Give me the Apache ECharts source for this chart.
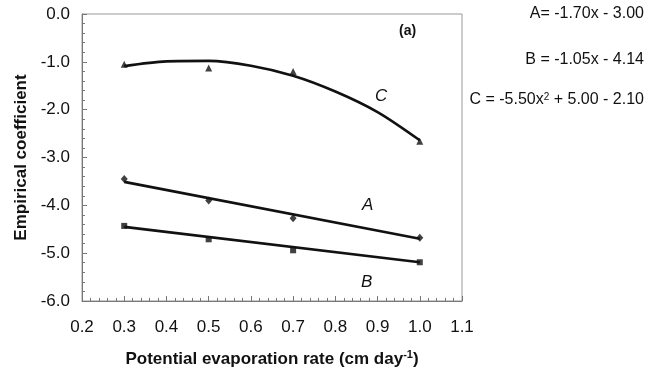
<!DOCTYPE html>
<html>
<head>
<meta charset="utf-8">
<script src="https://cdn.jsdelivr.net/npm/echarts@6/dist/echarts.min.js"></script>
<style>
html,body{margin:0;padding:0;background:#fff;}
#c{width:657px;height:375px;}
</style>
</head>
<body>
<div id="c"></div>
<script>
// Observed points
var obsX = [0.3, 0.5, 0.7, 1.0];
var obsA = [-3.45, -3.90, -4.27, -4.68];
var obsB = [-4.43, -4.71, -4.94, -5.19];
var obsC = [-1.05, -1.13, -1.20, -2.66];
// Fitted lines
var fitLineX = [0.3, 1.0];
var fitA = [-3.51, -4.70];
var fitB = [-4.45, -5.19];
var fitCX = [0.3, 0.4, 0.5, 0.6, 0.7, 0.8, 0.9, 1.0];
var fitC = [-1.09, -0.99, -0.98, -1.08, -1.29, -1.62, -2.05, -2.64];
// Axis ticks
var xMin = 0.2, xMax = 1.1, xStep = 0.1;
var yMin = -6, yMax = 0, yStep = 1;
var curveLabels = ['A', 'B', 'C'];
var equations = ['A= -1.70x - 3.00', 'B = -1.05x - 4.14', 'C = -5.50x{s|2} + 5.00 - 2.10'];

function pairs(xs, ys){ return xs.map(function(x,i){ return [x, ys[i]]; }); }

var chart = echarts.init(document.getElementById('c'));
var font = 'Liberation Sans, Arial, sans-serif';
var lineStyle = {color:'#111', width:2.6};
function eq(text, top){
  return {text:text, right:13, top:top, padding:0,
    textStyle:{fontSize:16, fontWeight:'normal', fontFamily:font, color:'#111',
      rich:{s:{fontSize:10, fontWeight:'normal', verticalAlign:'top', fontFamily:font, color:'#111', padding:[0,0,6,0]}}}};
}
var opt = {
  animation:false,
  title:[eq(equations[0], 6), eq(equations[1], 52), eq(equations[2], 92)],
  grid:{left:82, right:195, top:14, bottom:74, show:true, borderColor:'#999', borderWidth:1},
  xAxis:{type:'value', min:xMin, max:xMax, interval:xStep,
    name:'Potential evaporation rate (cm day{s|-1})', nameLocation:'middle', nameGap:48,
    nameTextStyle:{fontFamily:font, fontWeight:'bold', fontSize:17, color:'#111',
      rich:{s:{fontSize:11, fontWeight:'bold', verticalAlign:'top', padding:[0,0,9,0], fontFamily:font, color:'#111'}}},
    axisLine:{show:true, onZero:false, lineStyle:{color:'#777', width:1}},
    axisTick:{show:true, inside:true, length:5, lineStyle:{color:'#777'}},
    minorTick:{show:true, splitNumber:5, length:3, lineStyle:{color:'#777'}},
    splitLine:{show:false},
    axisLabel:{fontFamily:font, fontSize:17, color:'#111', margin:18,
      formatter:function(v){return v.toFixed(1);}}
  },
  yAxis:{type:'value', min:yMin, max:yMax, interval:yStep,
    name:'Empirical coefficient', nameLocation:'middle', nameGap:52,
    nameTextStyle:{fontFamily:font, fontWeight:'bold', fontSize:17, color:'#111'},
    axisLine:{show:true, onZero:false, lineStyle:{color:'#777', width:1}},
    axisTick:{show:true, inside:true, length:5, lineStyle:{color:'#777'}},
    minorTick:{show:true, splitNumber:5, length:3, lineStyle:{color:'#777'}},
    splitLine:{show:false},
    axisLabel:{fontFamily:font, fontSize:17, color:'#111', margin:12,
      formatter:function(v){return v.toFixed(1);}}
  },
  series:[
    {type:'line', data:pairs(fitLineX, fitA), symbol:'none', lineStyle:lineStyle, z:2},
    {type:'line', data:pairs(fitLineX, fitB), symbol:'none', lineStyle:lineStyle, z:2},
    {type:'line', data:pairs(fitCX, fitC), symbol:'none', smooth:0.3, lineStyle:lineStyle, z:2},
    {type:'scatter', data:pairs(obsX, obsA), symbol:'diamond', symbolSize:[7,8], itemStyle:{color:'#111'}, z:3},
    {type:'scatter', data:pairs(obsX, obsB), symbol:'rect', symbolSize:6, itemStyle:{color:'#111'}, z:3},
    {type:'scatter', data:pairs(obsX, obsC), symbol:'triangle', symbolSize:[7,7], itemStyle:{color:'#111'}, z:3}
  ],
  graphic:[
    {type:'text', left:399, top:24, style:{text:'(a)', fontSize:14, fontWeight:'bold', fontFamily:font, fill:'#111'}},
    {type:'text', left:362, top:197, style:{text:curveLabels[0], fontSize:17, fontStyle:'italic', fontFamily:font, fill:'#111'}},
    {type:'text', left:361, top:274, style:{text:curveLabels[1], fontSize:17, fontStyle:'italic', fontFamily:font, fill:'#111'}},
    {type:'text', left:375, top:88, style:{text:curveLabels[2], fontSize:17, fontStyle:'italic', fontFamily:font, fill:'#111'}}
  ]
};
chart.setOption(opt);
</script>
</body>
</html>
